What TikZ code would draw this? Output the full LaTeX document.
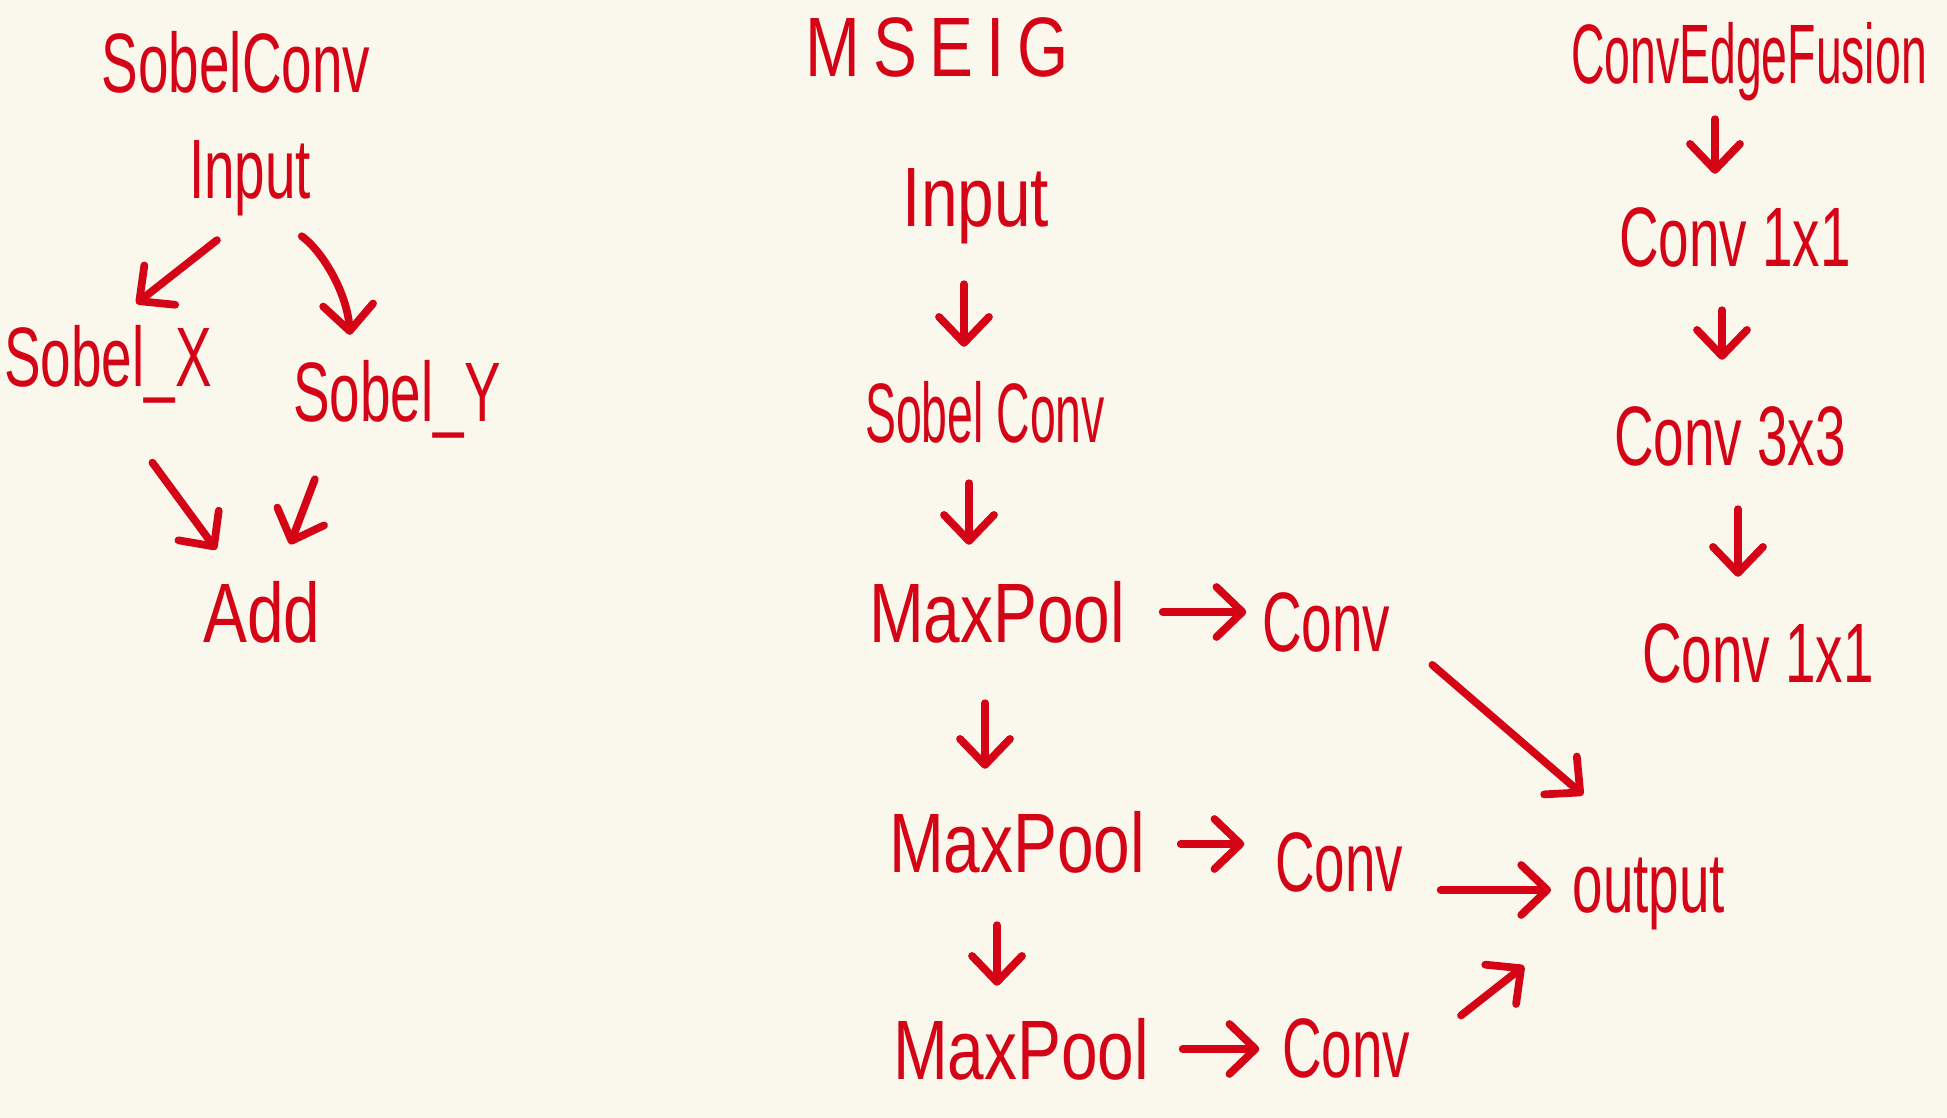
\documentclass[tikz,border=0pt]{standalone}
\usepackage{fontspec}
\newfontfamily\handfont[FakeStretch=0.65]{Liberation Sans}
\newfontfamily\narrowhand[FakeStretch=0.55]{Liberation Sans}
\newfontfamily\widehand[FakeStretch=0.78]{Liberation Sans}
\usetikzlibrary{arrows.meta}
\definecolor{ink}{RGB}{212,4,22}
\definecolor{paper}{RGB}{250,247,236}
\tikzset{>={Straight Barb[length=2.6mm,width=5mm,line cap=round,line join=round]},
arr/.style={draw=ink, line width=2.2pt, line cap=round, ->},
lbl/.style={text=ink, inner sep=0pt, text height=6mm, text depth=1.5mm, font=\handfont\fontsize{24}{28}\selectfont},
narrow/.style={font=\narrowhand\fontsize{24}{28}\selectfont},
wide/.style={font=\widehand\fontsize{24}{28}\selectfont}}

\begin{document}
\begin{tikzpicture}
\useasboundingbox (0,0) rectangle (19.47,-11.18);
\fill[paper] (0,0) rectangle (19.47,-11.18);
% SobelConv
\node[lbl] (t1) at (2.36,-0.70) {SobelConv};
\node[lbl] (in1) at (2.50,-1.76) {Input};
\node[lbl] (sx) at (1.08,-3.64) {Sobel\_X};
\node[lbl] (sy) at (3.97,-3.99) {Sobel\_Y};
\node[lbl,wide] (add) at (2.62,-6.20) {Add};
\draw[arr, shorten <=4.2mm, shorten >=3.6mm] (in1.south) -- (sx.north);
\draw[arr, shorten <=3.7mm, shorten >=2.6mm] (in1.-60) to[bend left=25] (sy.140);
\draw[arr, shorten <=7.5mm, shorten >=4mm] (sx.south) -- (add.120);
\draw[arr, shorten <=4.5mm, shorten >=4mm] (sy.-150) -- (add.70);
% MSEIG
\node[lbl,wide] (t2) at (9.37,-0.54) {\addfontfeatures{LetterSpace=15}MSEIG};
\node[lbl,wide] (in2) at (9.76,-2.04) {Input};
\node[lbl,narrow] (sc) at (9.85,-4.20) {Sobel Conv};
\node[lbl,wide] (mp1) at (9.97,-6.20) {MaxPool};
\node[lbl,wide] (mp2) at (10.17,-8.50) {MaxPool};
\node[lbl,wide] (mp3) at (10.21,-10.57) {MaxPool};
\node[lbl] (cv1) at (13.26,-6.29) {Conv};
\node[lbl] (cv2) at (13.39,-8.69) {Conv};
\node[lbl] (cv3) at (13.46,-10.55) {Conv};
\node[lbl] (out) at (16.49,-8.90) {output};
\draw[arr, shorten <=4.2mm, shorten >=3.5mm] ([xshift=-1.2mm]in2.south) -- ([xshift=-1.2mm]in2.south |- sc.north);
\draw[arr, shorten <=2.5mm, shorten >=3.7mm] ([xshift=-1.6mm]sc.south) -- ([xshift=-1.6mm]sc.south |- mp1.north);
\draw[arr, shorten <=4.5mm, shorten >=4.3mm] ([xshift=-1.2mm]mp1.south) -- ([xshift=-1.2mm]mp1.south |- mp2.north);
\draw[arr, shorten <=3.7mm, shorten >=3.3mm] ([xshift=-2mm]mp2.south) -- ([xshift=-2mm]mp2.south |- mp3.north);
\draw[arr, shorten <=3.7mm, shorten >=1.5mm] ([yshift=0.8mm]mp1.east) -- ([yshift=0.8mm]mp1.east -| cv1.west);
\draw[arr, shorten <=3.5mm, shorten >=3mm] ([yshift=0.6mm]mp2.east) -- ([yshift=0.6mm]mp2.east -| cv2.west);
\draw[arr, shorten <=3.3mm, shorten >=2.2mm] ([yshift=0.8mm]mp3.east) -- ([yshift=0.8mm]mp3.east -| cv3.west);
\draw[arr, shorten <=5.5mm, shorten >=8.7mm] (cv1.east) -- (out.north);
\draw[arr, shorten <=3.7mm, shorten >=2.1mm] (cv2.east |- out.west) -- (out.west);
\draw[arr, shorten <=6.4mm, shorten >=6.1mm] (cv3.east) -- (out.south west);
% ConvEdgeFusion
\node[lbl,narrow] (t3) at (17.49,-0.61) {ConvEdgeFusion};
\node[lbl] (c11) at (17.35,-2.44) {Conv 1x1};
\node[lbl] (c33) at (17.30,-4.43) {Conv 3x3};
\node[lbl] (c12) at (17.58,-6.60) {Conv 1x1};
\draw[arr, shorten <=2mm, shorten >=3.2mm] ([xshift=-2mm]c11.north |- t3.south) -- ([xshift=-2mm]c11.north);
\draw[arr, shorten <=2.8mm, shorten >=4.5mm] ([xshift=-1.3mm]c11.south) -- ([xshift=-1.3mm]c11.south |- c33.north);
\draw[arr, shorten <=2.8mm, shorten >=4.5mm] ([xshift=0.8mm]c33.south) -- ([xshift=0.8mm]c33.south |- c12.north);
\end{tikzpicture}
\end{document}
